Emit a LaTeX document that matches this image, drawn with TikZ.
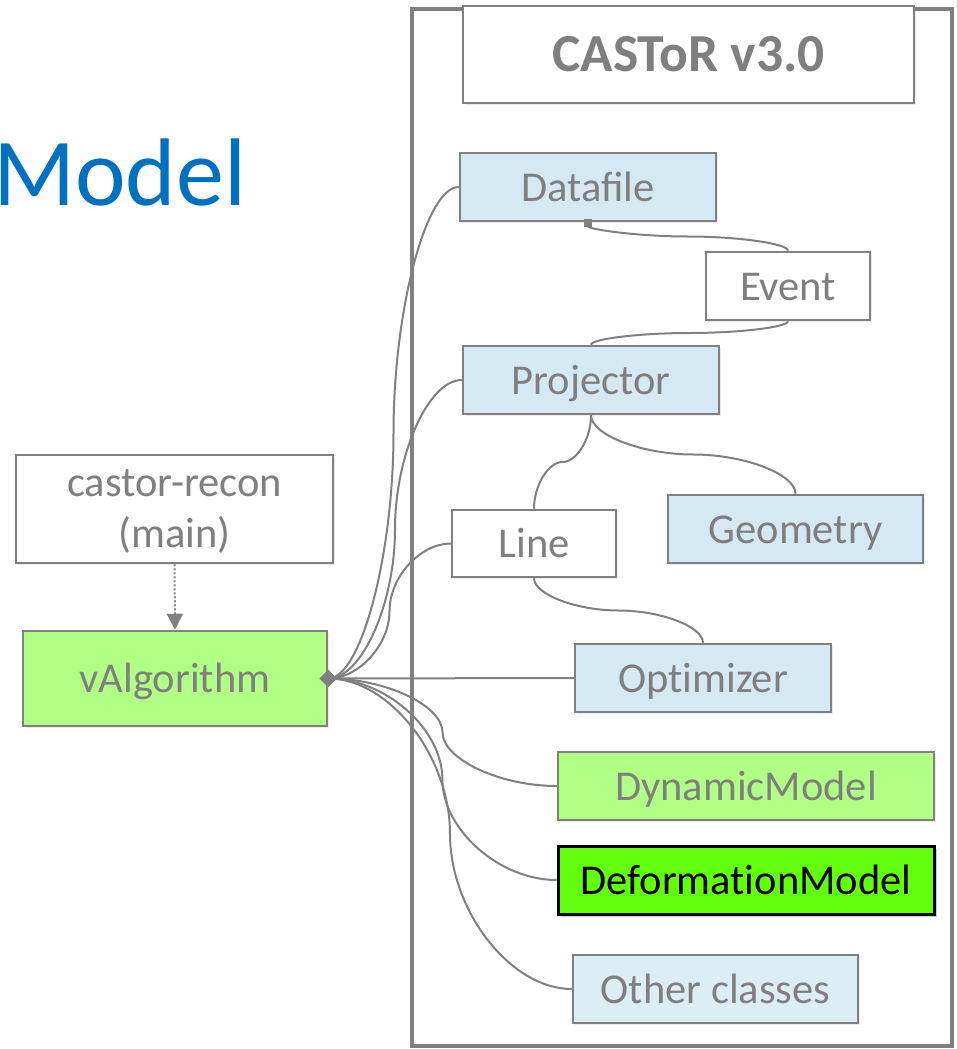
\documentclass[tikz,border=0pt]{standalone}
\usepackage{fontspec}
\setmainfont{Carlito}
\usetikzlibrary{shapes.geometric,arrows.meta,shadows,calc}
\definecolor{txtgray}{RGB}{127,127,127}
\definecolor{lngray}{RGB}{128,128,128}
\definecolor{lblue}{RGB}{212,233,241}
\definecolor{lblueb}{RGB}{219,238,243}
\definecolor{lgreen}{RGB}{178,255,133}
\definecolor{bgreen}{RGB}{98,255,12}
\definecolor{mblue}{RGB}{0,112,192}
\tikzset{
  box/.style={draw=lngray, line width=2.5pt, inner sep=0pt, text=txtgray,
    font=\fontsize{42.5}{51}\selectfont, align=center,
    text height=28pt, text depth=0pt,
    drop shadow={shadow xshift=1.5pt, shadow yshift=-1.5pt, opacity=0.15}},
  wbox/.style={box, fill=white},
  bbox/.style={box, fill=lblue},
  gbox/.style={box, fill=lgreen},
  conn/.style={draw=lngray, line width=2pt},
  boxtext/.style={inner sep=0pt, text=txtgray, font=\fontsize{42.5}{51}\selectfont, align=center},
}
% PowerPoint-like curved connector (horizontal ends)
\newcommand\hconn[3][]{%
  \path ($(#2)!0.25!(#3)$) coordinate (q1) ($(#2)!0.5!(#3)$) coordinate (qm) ($(#2)!0.75!(#3)$) coordinate (q3);
  \draw[conn,#1] (#2) .. controls (q1 |- #2) and (qm |- q1) .. (qm) .. controls (qm |- q3) and (q3 |- #3) .. (#3);}
% PowerPoint-like curved connector (vertical ends)
\newcommand\vconn[3][]{%
  \path ($(#2)!0.25!(#3)$) coordinate (q1) ($(#2)!0.5!(#3)$) coordinate (qm) ($(#2)!0.75!(#3)$) coordinate (q3);
  \draw[conn,#1] (#2) .. controls (#2 |- q1) and (q1 |- qm) .. (qm) .. controls (q3 |- qm) and (#3 |- q3) .. (#3);}
\begin{document}
\begin{tikzpicture}[x=1pt,y=-1pt]
\useasboundingbox (0,0) rectangle (956,1049);
% outer frame
\draw[lngray, line width=4.5pt] (412,9) rectangle (952,1046);
% title box
\node[wbox, minimum width=451pt, minimum height=97pt, text height=34.5pt, font=\bfseries\fontsize{53.5}{60}\selectfont] (title) at (688.5,54.5) {CASToR v3.0};
% Model
\node[anchor=base west, inner sep=0pt, text=mblue, font=\fontsize{96}{100}\selectfont] (model) at (-7,205) {Model};
% boxes
\node[bbox, minimum width=256pt, minimum height=68pt] (datafile) at (588,187) {Data{\kern0pt}file};
\node[wbox, minimum width=164pt, minimum height=68pt] (event) at (788,286) {Event};
\node[bbox, minimum width=256pt, minimum height=68pt] (projector) at (591,380) {Projector};
\node[wbox, minimum width=164pt, minimum height=67pt] (line) at (534,543.5) {Line};
\node[bbox, minimum width=255pt, minimum height=68pt] (geometry) at (795.5,529) {Geometry};
\node[wbox, minimum width=317pt, minimum height=108pt] (castor) at (174.5,509) {};
\node[boxtext] (castortxt) at (174.5,512) {castor-recon\\(main)};
\node[gbox, minimum width=304pt, minimum height=95pt] (valg) at (175,678.5) {vAlgorithm};
\node[bbox, minimum width=256pt, minimum height=68pt] (optimizer) at (703,678) {Opt{\kern0pt}imizer};
\node[gbox, minimum width=376pt, minimum height=68pt] (dynamic) at (746,786) {DynamicModel};
\node[box, fill=bgreen, draw=black, line width=3pt, text=black, minimum width=376pt, minimum height=68pt,
  drop shadow={shadow xshift=2.5pt, shadow yshift=-2.5pt, opacity=0.4}] (deform) at (746,880) {Deformat{\kern0pt}ionModel};
\node[box, fill=lblueb, minimum width=285pt, minimum height=68pt] (other) at (715.5,989) {Other classes};
% dotted arrow
\draw[conn, dotted, -{Triangle[width=16pt,length=16pt]}] (castor.south) -- (valg.north);
% hub connectors
\coordinate (hub) at (valg.east);
\hconn{hub}{datafile.west}
\hconn{hub}{projector.west}
\hconn{hub}{line.west}
\draw[conn] (hub) -- (optimizer.west);
\hconn{hub}{dynamic.west}
\hconn{hub}{deform.west}
\hconn{hub}{other.west}
\node[diamond, fill=lngray, inner sep=0pt, minimum size=18pt] (hubmark) at (hub) {};
% class connectors
\vconn[-{Square[length=8pt,width=8pt]}, shorten >=-3pt]{event.north}{datafile.south}
\vconn{event.south}{projector.north}
\vconn{projector.south}{line.north}
\vconn{projector.south}{geometry.north}
\vconn{line.south}{optimizer.north}
\end{tikzpicture}
\end{document}
